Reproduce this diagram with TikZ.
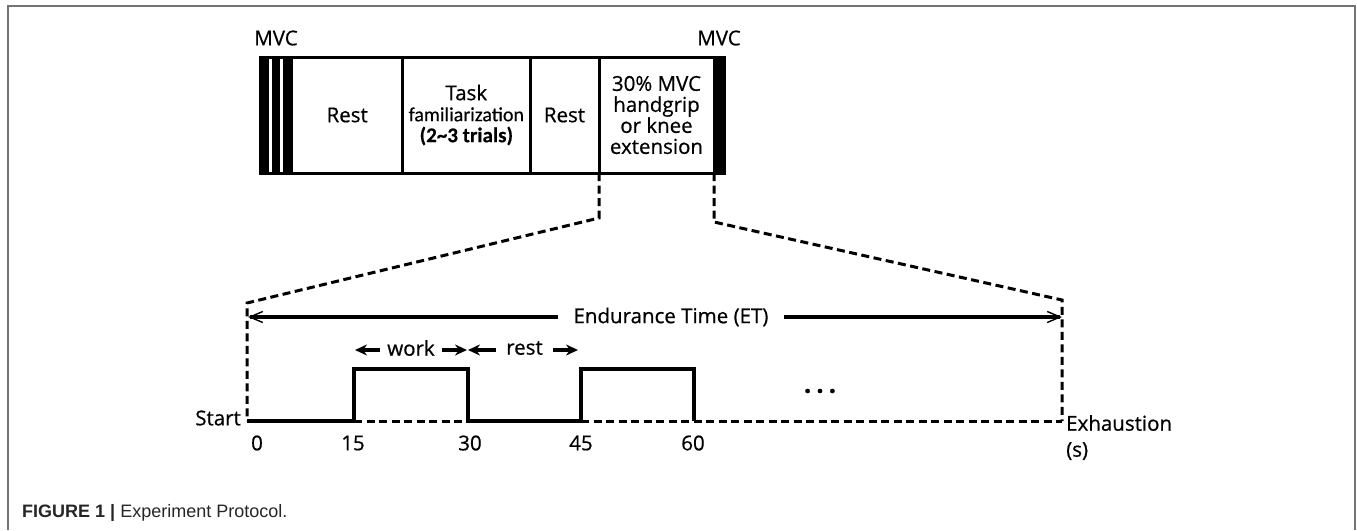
\documentclass[tikz,border=0pt]{standalone}
\usepackage{fontspec}
\setmainfont{Open Sans}[FakeBold=0.6]
\newfontfamily\calfont{Carlito}[FakeBold=0.4]
\newfontfamily\capfont{Liberation Sans}
\usetikzlibrary{arrows.meta}
\begin{document}
\begin{tikzpicture}[x=1pt,y=-1pt,
  seg/.style={draw, line width=3pt, minimum height=116pt, inner sep=0pt, outer sep=0pt, align=center, font=\fontsize{20.5}{21}\selectfont},
  lbl/.style={inner sep=0pt, font=\fontsize{20.5}{24}\selectfont},
  dashline/.style={line width=3pt, dash pattern=on 8pt off 4.5pt},
  pulse/.style={line width=4pt, line join=miter},
  etarrow/.style={line width=3.5pt, -{Straight Barb[length=13pt,width=11pt,line width=1.4pt]}},
  wrarrow/.style={line width=3.5pt, -{Stealth[length=12pt,width=11pt]}},
  frame/.style={draw=black!55, line width=1.5pt}
]
\useasboundingbox (0,0) rectangle (1357,530);
% frame
\draw[frame] (8,530) -- (8,6) -- (1355,6) -- (1355,530);

% top box
\draw[line width=3pt] (260,57) rectangle (724,173);
\fill (260,57) rectangle (269.3,173);
\fill (272.3,57) rectangle (280,173);
\fill (283.3,57) rectangle (291.7,173);
\fill (714,57) rectangle (724,173);
\node[seg, minimum width=111pt] (rest1) at (347.2,115) {Rest};
\node[seg, minimum width=127.3pt] (task) at (466.35,115) {Task\\{\calfont\fontsize{20}{21}\selectfont familiarization}\\{\calfont\bfseries\fontsize{21}{21}\selectfont (2\textasciitilde 3 trials)}};
\node[seg, minimum width=69pt] (rest2) at (564.5,115) {Rest};
\node[seg, minimum width=115pt] (mvc30) at (656.5,115) {30\% MVC\\handgrip\\or knee\\extension};

\node[lbl] (mvcL) at (276,38) {MVC};
\node[lbl] (mvcR) at (719,38) {MVC};

% zoom lines
\coordinate (zl1) at (599,218);
\coordinate (zl2) at (247,303);
\coordinate (t0) at (247,421);
\coordinate (zr1) at (714,222);
\coordinate (zr2) at (1062,300);
\coordinate (tend) at (1062,421);
\draw[dashline] (mvc30.south west) -- (zl1) -- (zl2) -- (t0);
\draw[dashline] (mvc30.south east) -- (zr1) -- (zr2) -- (tend);

% endurance time
\node[lbl, inner xsep=15pt] (et) at (671,317) {Endurance Time (ET)};
\coordinate (etL) at (248,317);
\coordinate (etR) at (1062,317);
\draw[etarrow] (et) -- (etL);
\draw[etarrow] (et) -- (etR);

% work / rest
\node[lbl, inner xsep=7pt] (work) at (411,348) {work};
\node[lbl, inner xsep=10pt] (rest) at (524.5,348) {rest};
\coordinate (wL) at (355,350);
\coordinate (wR) at (467,350);
\coordinate (rL) at (468,350);
\coordinate (rR) at (578,350);
\draw[wrarrow] (work.west |- wL) -- (wL);
\draw[wrarrow] (work.east |- wR) -- (wR);
\draw[wrarrow] (rest.west |- rL) -- (rL);
\draw[wrarrow] (rest.east |- rR) -- (rR);

% pulses
\coordinate (p1a) at (354,421);
\coordinate (p1b) at (354,369);
\coordinate (p1c) at (468,369);
\coordinate (p1d) at (468,421);
\coordinate (p2a) at (581,421);
\coordinate (p2b) at (581,369);
\coordinate (p2c) at (694,369);
\coordinate (p2d) at (694,421);
\draw[pulse] (t0) -- (p1a) -- (p1b) -- (p1c) -- (p1d) -- (p2a) -- (p2b) -- (p2c) -- (p2d);
\draw[dashline] (p1a) -- (p1d);
\draw[dashline] (p2a) -- (tend);

% labels
\node[lbl, anchor=east] (start) at (241,418) {Start};
\node[lbl, anchor=west] (exh) at (1066,423) {Exhaustion};
\node[lbl, anchor=west] (sec) at (1066,451) {(s)};
\node[lbl] (n0) at (257,443) {0};
\node[lbl] (n15) at (353,443) {15};
\node[lbl] (n30) at (470,443) {30};
\node[lbl] (n45) at (581,443) {45};
\node[lbl] (n60) at (693,443) {60};
\node[lbl, font=\fontsize{26}{26}\selectfont] (dots) at (820,391) {\bfseries .\hspace{5pt}.\hspace{5pt}.};

% caption
\node[anchor=base west, inner sep=0pt, font=\capfont\fontsize{18}{21}\selectfont, text=black!85] (cap) at (22,517) {\textbf{FIGURE 1 |} Experiment Protocol.};
\end{tikzpicture}
\end{document}
